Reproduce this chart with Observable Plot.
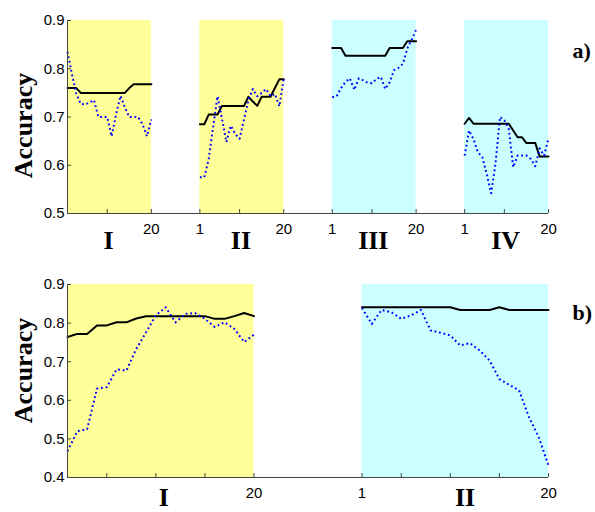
<!DOCTYPE html>
<html><head><meta charset="utf-8">
<script src="https://cdn.jsdelivr.net/npm/d3@7"></script>
<script src="https://cdn.jsdelivr.net/npm/@observablehq/plot@0.6"></script>
<style>
html,body{margin:0;padding:0;background:#fff;}
#chart{width:595px;height:512px;overflow:hidden;}
#chart svg{display:block;}
</style>
</head><body><div id="chart"></div>
<script>
// ---------- data ----------
const steps = [1,2,3,4,5,6,7,8,9,10,11,12,13,14,15,16,17,18,19,20];

// panel a)
const groupsA = ["I", "II", "III", "IV"];
const shadeA = ["#ffff99", "#ffff99", "#ccffff", "#ccffff"];
const solidA = [
  [0.760,0.760,0.760,0.750,0.750,0.750,0.750,0.750,0.750,0.750,0.750,0.750,0.750,0.750,0.760,0.768,0.768,0.768,0.768,0.768],
  [0.685,0.685,0.705,0.705,0.705,0.723,0.723,0.723,0.723,0.723,0.723,0.742,0.732,0.723,0.742,0.742,0.742,0.760,0.778,0.778],
  [0.843,0.843,0.843,0.827,0.827,0.827,0.827,0.827,0.827,0.827,0.827,0.827,0.827,0.843,0.843,0.843,0.843,0.857,0.857,0.857],
  [0.686,0.698,0.686,0.686,0.686,0.686,0.686,0.686,0.686,0.686,0.686,0.672,0.658,0.658,0.646,0.646,0.646,0.618,0.618,0.618]
];
const dottedA = [
  [0.835,0.789,0.748,0.727,0.726,0.730,0.735,0.700,0.700,0.700,0.660,0.705,0.744,0.720,0.700,0.700,0.700,0.685,0.660,0.695],
  [0.575,0.575,0.613,0.679,0.743,0.697,0.648,0.682,0.665,0.655,0.695,0.735,0.758,0.743,0.750,0.758,0.743,0.748,0.722,0.780],
  [0.741,0.743,0.760,0.773,0.780,0.756,0.780,0.776,0.771,0.770,0.779,0.783,0.758,0.772,0.797,0.802,0.810,0.842,0.860,0.881],
  [0.620,0.672,0.654,0.627,0.617,0.582,0.542,0.604,0.700,0.693,0.675,0.596,0.620,0.620,0.620,0.613,0.598,0.635,0.620,0.655]
];
const yTicksA = [0.5, 0.6, 0.7, 0.8, 0.9];
const minorIdxA = [1, 10, 20];
const tickLabelsA = [
  {group: 0, idx: 20, text: "20"},
  {group: 1, idx: 1, text: "1"}, {group: 1, idx: 20, text: "20"},
  {group: 2, idx: 1, text: "1"}, {group: 2, idx: 20, text: "20"},
  {group: 3, idx: 1, text: "1"}, {group: 3, idx: 20, text: "20"}
];
const groupLabelIdxA = [10.3, 10.3, 10.3, 10.3];

// panel b)
const groupsB = ["I", "II"];
const shadeB = ["#ffff99", "#ccffff"];
const solidB = [
  [0.764,0.772,0.772,0.794,0.794,0.802,0.802,0.812,0.818,0.818,0.818,0.818,0.818,0.818,0.818,0.811,0.811,0.818,0.826,0.818],
  [0.841,0.841,0.841,0.841,0.841,0.841,0.841,0.841,0.841,0.841,0.834,0.834,0.834,0.834,0.841,0.834,0.834,0.834,0.834,0.834]
];
const dottedB = [
  [0.468,0.520,0.525,0.630,0.634,0.680,0.677,0.733,0.776,0.820,0.841,0.802,0.824,0.826,0.811,0.790,0.802,0.785,0.751,0.770],
  [0.839,0.798,0.834,0.828,0.811,0.820,0.834,0.781,0.775,0.768,0.742,0.748,0.729,0.703,0.655,0.640,0.626,0.557,0.505,0.431]
];
const yTicksB = [0.4, 0.5, 0.6, 0.7, 0.8, 0.9];
const minorIdxB = [1, 5, 10, 15, 20];
const tickLabelsB = [
  {group: 0, idx: 20, text: "20", serif: false},
  {group: 1, idx: 1, text: "1", serif: true},
  {group: 1, idx: 20, text: "20", serif: false}
];
const groupLabelIdxB = [10.8, 11.5];

// ---------- helpers ----------
const PERIOD = 30;            // x units between group starts
const pos = (g, idx) => g * PERIOD + idx - 1;
const SANS = "'Liberation Sans', Arial, Helvetica, sans-serif";
const SERIF = "'Liberation Serif', 'Times New Roman', serif";

function series(groups, vals) {
  return groups.flatMap((g, gi) => vals[gi].map((v, k) => ({group: g, x: pos(gi, steps[k]), y: v})));
}

function panel({groups, shade, solid, dotted, yDomain, yTicks, minorIdx, tickLabels, groupLabelIdx,
                marginTop, marginBottom, letter, letterDy, groupDy, ylabDy}) {
  const W = 595, H = 256, mL = 67, mR = 47;
  const xMax = pos(groups.length - 1, 20);
  const pxY = (H - marginTop - marginBottom) / (yDomain[1] - yDomain[0]);
  const pxX = (W - mL - mR) / xMax;
  const tickLen = 4;
  const bands = groups.map((g, gi) => ({group: g, x1: pos(gi, 1), x2: pos(gi, 20), fill: shade[gi]}));
  const minor = groups.flatMap((g, gi) => minorIdx.map(i => pos(gi, i)));
  const labs = tickLabels.map(d => ({x: pos(d.group, d.idx), text: d.text, serif: d.serif}));
  const gl = groups.map((g, gi) => ({x: pos(gi, groupLabelIdx[gi]), text: g}));
  return Plot.plot({
    width: W, height: H,
    marginLeft: mL, marginRight: mR, marginTop, marginBottom,
    x: {domain: [0, xMax], axis: null},
    y: {domain: yDomain, axis: null},
    style: {fontFamily: SANS, background: "white", overflow: "visible"},
    marks: [
      Plot.rectY(bands, {x1: "x1", x2: "x2", y1: yDomain[0], y2: yDomain[1], fill: d => d.fill}),
      Plot.line(series(groups, solid), {x: "x", y: "y", z: "group", stroke: "#000", strokeWidth: 2}),
      Plot.line(series(groups, dotted), {x: "x", y: "y", z: "group", stroke: "#0000ff", strokeWidth: 2,
        strokeDasharray: "1.8,2.8", strokeLinecap: "butt"}),
      // axis lines
      Plot.ruleY([yDomain[0]], {stroke: "#444", strokeWidth: 1}),
      Plot.ruleX([0], {stroke: "#444", strokeWidth: 1}),
      // inward ticks
      Plot.ruleX(minor, {x: d => d, y1: yDomain[0], y2: yDomain[0] + tickLen / pxY, stroke: "#444", strokeWidth: 1}),
      Plot.ruleY(yTicks, {y: d => d, x1: 0, x2: tickLen / pxX, stroke: "#444", strokeWidth: 1}),
      // y tick labels
      Plot.text(yTicks, {x: 0, y: d => d, text: d => d.toFixed(1), textAnchor: "end", dx: -3, fontSize: 15, fontFamily: SANS, fill: "#000"}),
      // x tick labels
      Plot.text(labs, {x: "x", y: yDomain[0], text: "text", lineAnchor: "top", dy: 10, fontSize: 15,
        fontFamily: d => d.serif ? SERIF : SANS, fill: "#000"}),
      // group labels
      Plot.text(gl, {x: "x", y: yDomain[0], text: "text", lineAnchor: "bottom", dy: groupDy, fontSize: 26,
        fontWeight: "bold", fontFamily: SERIF, fill: "#000"}),
      // y label
      Plot.text(["Accuracy"], {frameAnchor: "left", text: d => d, rotate: -90, textAnchor: "middle", lineAnchor: "middle",
        dx: -44, dy: ylabDy, fontSize: 26, fontWeight: "bold", fontFamily: SERIF, fill: "#000"}),
      // panel letter
      Plot.text([letter], {frameAnchor: "top-right", text: d => d, textAnchor: "start", lineAnchor: "bottom",
        dx: 24, dy: letterDy, fontSize: 22, fontWeight: "bold", fontFamily: SERIF, fill: "#000"})
    ]
  });
}

const chart = document.getElementById("chart");
chart.append(panel({groups: groupsA, shade: shadeA, solid: solidA, dotted: dottedA, yDomain: [0.5, 0.9],
  yTicks: yTicksA, minorIdx: minorIdxA, tickLabels: tickLabelsA, groupLabelIdx: groupLabelIdxA,
  marginTop: 20, marginBottom: 43, letter: "a)", letterDy: 37, groupDy: 35, ylabDy: 8.5}));
chart.append(panel({groups: groupsB, shade: shadeB, solid: solidB, dotted: dottedB, yDomain: [0.4, 0.9],
  yTicks: yTicksB, minorIdx: minorIdxB, tickLabels: tickLabelsB, groupLabelIdx: groupLabelIdxB,
  marginTop: 28, marginBottom: 35, letter: "b)", letterDy: 35, groupDy: 28, ylabDy: -10.5}));
</script>
</body></html>
